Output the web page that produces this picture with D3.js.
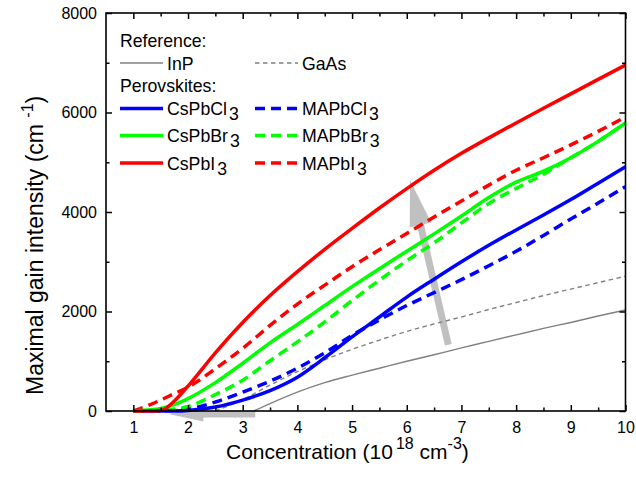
<!DOCTYPE html>
<html><head><meta charset="utf-8">
<script src="https://cdn.jsdelivr.net/npm/d3@7/dist/d3.min.js"></script>
<style>
body{margin:0;background:#fff}
svg{display:block}
text{font-family:"Liberation Sans",Arial,Helvetica,sans-serif;fill:#000}
</style>
</head><body>
<svg id="chart" width="636" height="480"></svg>
<script>
// ---------------- data ----------------
const conc      = [1, 1.25, 1.5, 1.75, 2, 2.5, 3, 3.5, 4, 4.5, 5, 5.5, 6, 6.5, 7, 7.5, 8, 8.5, 9, 9.5, 10];
const CsPbCl3   = [0, 0, 0, 0, 10, 80, 220, 410, 680, 1070, 1490, 1890, 2290, 2650, 3000, 3330, 3640, 3940, 4250, 4580, 4910];
const CsPbBr3   = [0, 20, 50, 130, 250, 570, 960, 1370, 1740, 2120, 2500, 2860, 3210, 3560, 3920, 4290, 4600, 4820, 5090, 5420, 5790];
const CsPbI3    = [0, 0, 10, 200, 500, 1170, 1780, 2320, 2800, 3250, 3670, 4080, 4470, 4840, 5180, 5490, 5790, 6085, 6375, 6665, 6955];
const MAPbCl3   = [0, 0, 5, 15, 40, 180, 380, 600, 860, 1170, 1520, 1830, 2120, 2380, 2640, 2920, 3210, 3530, 3860, 4180, 4510];
const MAPbBr3   = [0, 0, 10, 35, 90, 330, 620, 1010, 1390, 1790, 2220, 2630, 3020, 3380, 3780, 4170, 4475, 4760, 5090, 5420, 5790];
const MAPbI3    = [0, 100, 220, 350, 480, 850, 1260, 1720, 2150, 2530, 2900, 3240, 3570, 3900, 4220, 4540, 4840, 5090, 5350, 5620, 5910];
const gaasConc  = [2.5, 3, 3.5, 4, 4.5, 5, 5.5, 6, 6.5, 7, 7.5, 8, 8.5, 9, 9.5, 10];
const GaAs      = [0, 230, 520, 790, 1030, 1240, 1425, 1600, 1750, 1890, 2040, 2180, 2320, 2450, 2580, 2710];
const inpConc   = [3.2, 3.5, 4, 4.5, 5, 5.5, 6, 6.5, 7, 7.5, 8, 8.5, 9, 9.5, 10];
const InP       = [0, 150, 380, 570, 720, 860, 1000, 1130, 1270, 1400, 1530, 1660, 1780, 1910, 2030];

const xMajorTicks = [1, 2, 3, 4, 5, 6, 7, 8, 9, 10];
const xMinorTicks = [1.5, 2.5, 3.5, 4.5, 5.5, 6.5, 7.5, 8.5, 9.5];
const yMajorTicks = [0, 2000, 4000, 6000, 8000];
const yMinorTicks = [1000, 3000, 5000, 7000];

// arrows (data coordinates): [tailX, tailY, tipX, tipY]
const arrowUp   = [6.76, 1330, 6.06, 4640];
const arrowLeft = [3.23, -60, 1.64, -60];

// ---------------- layout ----------------
const svg = d3.select("#chart");
const L = 106, R = 625.5, T = 13, B = 411;
const x = d3.scaleLinear().domain([0.5, 10]).range([L, R]);
const y = d3.scaleLinear().domain([0, 8000]).range([B, T]);

const blue = "#0000ff", green = "#00ff00", red = "#ff0000", grey = "#808080", arrowGrey = "#c0c0c0";

const series = [
  {name: "InP",     xs: inpConc,  ys: InP,     color: grey,  w: 1.4, dash: null},
  {name: "GaAs",    xs: gaasConc, ys: GaAs,    color: grey,  w: 1.4, dash: "4.5,3.5"},
  {name: "MAPbCl3", xs: conc, ys: MAPbCl3, color: blue,  w: 3.5, dash: "10,6"},
  {name: "MAPbBr3", xs: conc, ys: MAPbBr3, color: green, w: 3.5, dash: "10,6"},
  {name: "MAPbI3",  xs: conc, ys: MAPbI3,  color: red,   w: 3.5, dash: "10,6"},
  {name: "CsPbCl3", xs: conc, ys: CsPbCl3, color: blue,  w: 3.5, dash: null},
  {name: "CsPbBr3", xs: conc, ys: CsPbBr3, color: green, w: 3.5, dash: null},
  {name: "CsPbI3",  xs: conc, ys: CsPbI3,  color: red,   w: 3.5, dash: null}
];

// ---------------- arrows ----------------
function arrowPoly(a, shaftW, headW, headL) {
  const x0 = x(a[0]), y0 = y(a[1]), x1 = x(a[2]), y1 = y(a[3]);
  const dx = x1 - x0, dy = y1 - y0, len = Math.hypot(dx, dy);
  const ux = dx / len, uy = dy / len, nx = -uy, ny = ux;
  const bx = x1 - ux * headL, by = y1 - uy * headL;
  const p = [
    [x0 + nx * shaftW / 2, y0 + ny * shaftW / 2],
    [bx + nx * shaftW / 2, by + ny * shaftW / 2],
    [bx + nx * headW / 2, by + ny * headW / 2],
    [x1, y1],
    [bx - nx * headW / 2, by - ny * headW / 2],
    [bx - nx * shaftW / 2, by - ny * shaftW / 2],
    [x0 - nx * shaftW / 2, y0 - ny * shaftW / 2]
  ];
  return p.map(q => q.join(",")).join(" ");
}
const gArrows = svg.append("g");
gArrows.append("polygon").attr("points", arrowPoly(arrowUp, 7, 22, 46)).attr("fill", arrowGrey);
gArrows.append("polygon").attr("points", arrowPoly(arrowLeft, 7, 15, 35)).attr("fill", arrowGrey);

// ---------------- lines ----------------
const gLines = svg.append("g");
series.forEach(s => {
  const pts = s.xs.map((v, i) => [v, s.ys[i]]);
  const line = d3.line().x(d => x(d[0])).y(d => y(d[1])).curve(d3.curveMonotoneX);
  gLines.append("path")
    .attr("d", line(pts))
    .attr("fill", "none")
    .attr("stroke", s.color)
    .attr("stroke-width", s.w)
    .attr("stroke-dasharray", s.dash)
    .attr("stroke-linejoin", "round");
});

// ---------------- axes ----------------
const fontTick = 16;
function styleAxis(g) {
  g.selectAll("path.domain").remove();
  g.selectAll(".tick line").attr("stroke", "#000").attr("stroke-width", 1.5);
  g.selectAll(".tick text").style("font-size", fontTick + "px").attr("fill", "#000")
    .style("font-family", '"Liberation Sans",Arial,sans-serif');
}
svg.append("g").attr("transform", `translate(0,${B})`)
  .call(d3.axisBottom(x).tickValues(xMajorTicks).tickSize(-6).tickPadding(11).tickFormat(d3.format("d")))
  .call(styleAxis);
svg.append("g").attr("transform", `translate(0,${B})`)
  .call(d3.axisBottom(x).tickValues(xMinorTicks).tickSize(-3.5).tickFormat(""))
  .call(styleAxis);
svg.append("g").attr("transform", `translate(0,${T})`)
  .call(d3.axisTop(x).tickValues(xMajorTicks).tickSize(-6).tickFormat(""))
  .call(styleAxis);
svg.append("g").attr("transform", `translate(0,${T})`)
  .call(d3.axisTop(x).tickValues(xMinorTicks).tickSize(-3.5).tickFormat(""))
  .call(styleAxis);
svg.append("g").attr("transform", `translate(${L},0)`)
  .call(d3.axisLeft(y).tickValues(yMajorTicks).tickSize(-6).tickPadding(9).tickFormat(d3.format("d")))
  .call(styleAxis);
svg.append("g").attr("transform", `translate(${L},0)`)
  .call(d3.axisLeft(y).tickValues(yMinorTicks).tickSize(-3.5).tickFormat(""))
  .call(styleAxis);
svg.append("g").attr("transform", `translate(${R},0)`)
  .call(d3.axisRight(y).tickValues(yMajorTicks).tickSize(-6).tickFormat(""))
  .call(styleAxis);
svg.append("g").attr("transform", `translate(${R},0)`)
  .call(d3.axisRight(y).tickValues(yMinorTicks).tickSize(-3.5).tickFormat(""))
  .call(styleAxis);
svg.append("rect").attr("x", L).attr("y", T).attr("width", R - L).attr("height", B - T)
  .attr("fill", "none").attr("stroke", "#000").attr("stroke-width", 1.6);

// ---------------- axis titles ----------------
const xt = svg.append("text").attr("x", 226).attr("y", 459).style("font-size", "21px");
xt.append("tspan").text("Concentration (10");
xt.append("tspan").attr("dx", 3).attr("dy", -10).style("font-size", "16px").text("18");
xt.append("tspan").attr("dy", 10).text(" cm");
xt.append("tspan").attr("dy", -10).style("font-size", "16px").text("-3");
xt.append("tspan").attr("dy", 10).text(")");

const yt = svg.append("text").attr("transform", "translate(43,395) rotate(-90)").style("font-size", "23px");
yt.append("tspan").text("Maximal gain intensity (cm ");
yt.append("tspan").attr("dy", -10).style("font-size", "16px").text("-1");
yt.append("tspan").attr("dy", 10).text(")");

// ---------------- legend ----------------
const legend = svg.append("g").style("font-size", "17.7px");
const legendRows = [
  {type: "head", text: "Reference:", y: 47},
  {type: "item", s: "InP", col: 0, y: 63},
  {type: "item", s: "GaAs", col: 1, y: 63},
  {type: "head", text: "Perovskites:", y: 92},
  {type: "item", s: "CsPbCl3", col: 0, y: 108.5},
  {type: "item", s: "MAPbCl3", col: 1, y: 108.5},
  {type: "item", s: "CsPbBr3", col: 0, y: 135.5},
  {type: "item", s: "MAPbBr3", col: 1, y: 135.5},
  {type: "item", s: "CsPbI3", col: 0, y: 163},
  {type: "item", s: "MAPbI3", col: 1, y: 163}
];
const colX = [120, 255];
legendRows.forEach(r => {
  if (r.type === "head") {
    legend.append("text").attr("x", 120).attr("y", r.y).text(r.text);
  } else {
    const s = series.find(d => d.name === r.s);
    const x0 = colX[r.col];
    legend.append("line").attr("x1", x0).attr("x2", x0 + 43).attr("y1", r.y).attr("y2", r.y)
      .attr("stroke", s.color).attr("stroke-width", s.w).attr("stroke-dasharray", s.dash);
    const t = legend.append("text").attr("x", x0 + 47).attr("y", r.y + 6.5);
    const m = s.name.match(/^(.*?)(\d)$/);
    if (m) {
      t.append("tspan").text(m[1]);
      t.append("tspan").attr("dx", 2).attr("dy", 5).text(m[2]);
    } else {
      t.text(s.name);
    }
  }
});
</script>
</body></html>
